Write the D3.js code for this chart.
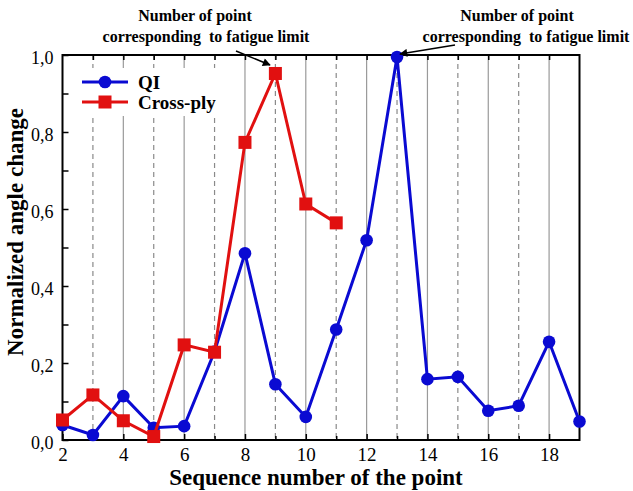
<!DOCTYPE html>
<html><head><meta charset="utf-8">
<script src="https://cdn.jsdelivr.net/npm/d3@7"></script>
<style>body{margin:0;background:#fff}svg{display:block}</style>
</head><body>
<script>
const xQI = [2,3,4,5,6,7,8,9,10,11,12,13,14,15,16,17,18,19];
const yQI = [0.039,0.013,0.114,0.032,0.036,0.23,0.485,0.145,0.06,0.287,0.519,0.995,0.158,0.164,0.076,0.089,0.255,0.048];
const xCP = [2,3,4,5,6,7,8,9,10,11];
const yCP = [0.052,0.117,0.05,0.009,0.247,0.228,0.773,0.952,0.613,0.564];
const xTicks = [2,4,6,8,10,12,14,16,18];
const yTicks = [0,0.2,0.4,0.6,0.8,1.0];
const seriesNames = ["QI","Cross-ply"];
const annotationLines = ["Number of point","corresponding  to fatigue limit"];

const W=633,H=491;
const L=62.5,R=579.5,T=55,B=440;
const svg=d3.select("body").append("svg").attr("width",W).attr("height",H);
const x=d3.scaleLinear().domain([2,19]).range([L,R]);
const y=d3.scaleLinear().domain([0,1]).range([B,T]);
const serif="'Liberation Serif','Times New Roman',serif";

// grid lines
const g=svg.append("g");
d3.range(3,19).forEach(v=>{
  const odd=v%2===1;
  g.append("line").attr("x1",x(v)).attr("x2",x(v)).attr("y1",T).attr("y2",B)
   .attr("stroke",odd?"#8a8a8a":"#9a9a9a").attr("stroke-width",1.2)
   .attr("stroke-dasharray",odd?"5,4":null);
});

// legend background
svg.append("rect").attr("x",66).attr("y",68).attr("width",158).attr("height",48).attr("fill","#fff");

// axes
const yAxis=d3.axisLeft(y).tickValues(yTicks).tickFormat(d=>d3.format(".1f")(d).replace(".",",")).tickSizeInner(-6).tickSizeOuter(0).tickPadding(9);
const ya=svg.append("g").attr("transform",`translate(${L},0)`).call(yAxis);
const yMinor=d3.axisLeft(y).tickValues(d3.range(0.1,1,0.2)).tickFormat("").tickSizeInner(-6).tickSizeOuter(0);
svg.append("g").attr("transform",`translate(${L},0)`).call(yMinor);
const xAxis=d3.axisBottom(x).tickValues(xTicks).tickSizeInner(-6).tickSizeOuter(0).tickPadding(7.5);
const xa=svg.append("g").attr("transform",`translate(0,${B})`).call(xAxis);
const xMinor=d3.axisBottom(x).tickValues(d3.range(3,19,2)).tickFormat("").tickSizeInner(-4).tickSizeOuter(0);
svg.append("g").attr("transform",`translate(0,${B})`).call(xMinor);
const xTop=d3.axisTop(x).tickValues(d3.range(3,19)).tickFormat("").tickSizeInner(-5).tickSizeOuter(0);
svg.append("g").attr("transform",`translate(0,${T})`).call(xTop);
svg.selectAll(".domain").remove();
svg.selectAll(".tick line").attr("stroke","#000").attr("stroke-width",1.5);
svg.selectAll(".tick text").attr("font-family",serif).attr("fill","#000");
ya.selectAll(".tick text").attr("font-size",18).attr("dy","0.45em");
xa.selectAll(".tick text").attr("font-size",19);

// frame
svg.append("rect").attr("x",L).attr("y",T).attr("width",R-L).attr("height",B-T)
  .attr("fill","none").attr("stroke","#000").attr("stroke-width",2);

// series
const line=d3.line().x(d=>x(d[0])).y(d=>y(d[1]));
const qi=xQI.map((v,i)=>[v,yQI[i]]);
const cp=xCP.map((v,i)=>[v,yCP[i]]);
const blue="#0a0ad2", red="#e11010";
svg.append("path").datum(qi).attr("d",line).attr("fill","none").attr("stroke",blue).attr("stroke-width",3);
svg.selectAll(".qi").data(qi).enter().append("circle").attr("cx",d=>x(d[0])).attr("cy",d=>y(d[1])).attr("r",6.3).attr("fill",blue);
svg.append("path").datum(cp).attr("d",line).attr("fill","none").attr("stroke",red).attr("stroke-width",3);
svg.selectAll(".cp").data(cp).enter().append("rect").attr("x",d=>x(d[0])-6.5).attr("y",d=>y(d[1])-6.5).attr("width",13).attr("height",13).attr("fill",red);

// legend
const lg=svg.append("g");
[[blue,"circle",82],[red,"rect",102]].forEach((s,i)=>{
  lg.append("line").attr("x1",82).attr("x2",128).attr("y1",s[2]).attr("y2",s[2]).attr("stroke",s[0]).attr("stroke-width",3);
  if(s[1]==="circle") lg.append("circle").attr("cx",105).attr("cy",s[2]).attr("r",6.3).attr("fill",s[0]);
  else lg.append("rect").attr("x",98.5).attr("y",s[2]-6.5).attr("width",13).attr("height",13).attr("fill",s[0]);
  lg.append("text").attr("x",138).attr("y",s[2]+6.5).text(seriesNames[i]).attr("font-family",serif).attr("font-weight","bold").attr("font-size",19);
});

// axis titles
svg.append("text").attr("x",316).attr("y",485).attr("text-anchor","middle").attr("font-family",serif).attr("font-weight","bold").attr("font-size",23).text("Sequence number of the point");
svg.append("text").attr("transform","translate(23,232) rotate(-90)").attr("text-anchor","middle").attr("font-family",serif).attr("font-weight","bold").attr("font-size",23).text("Normalized angle change");

// annotations
svg.append("defs").append("marker").attr("id","ah").attr("viewBox","0 0 10 10").attr("refX",9).attr("refY",5)
 .attr("markerWidth",10).attr("markerHeight",8).attr("markerUnits","userSpaceOnUse").attr("orient","auto")
 .append("path").attr("d","M0,0L10,5L0,10z").attr("fill","#000");
function annot(cx1,cx2,from,to){
  annotationLines.forEach((t,i)=>{
    svg.append("text").attr("x",i?cx2:cx1).attr("y",i?42:21).attr("text-anchor","middle").attr("font-family",serif).attr("font-weight","bold").attr("font-size",16).attr("xml:space","preserve").text(t);
  });
  svg.append("line").attr("x1",from[0]).attr("y1",from[1]).attr("x2",to[0]).attr("y2",to[1]).attr("stroke","#000").attr("stroke-width",1.5).attr("marker-end","url(#ah)");
}
annot(195,206,[236,51],[270,65]);
annot(517,526,[455,45],[400,54]);
</script>
</body></html>
